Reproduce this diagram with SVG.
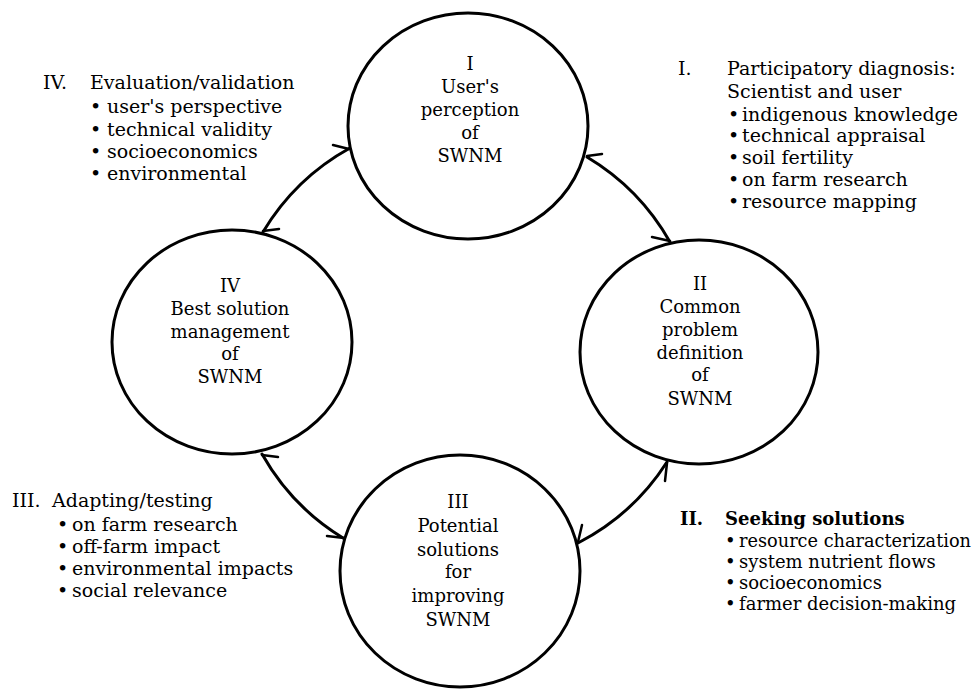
<svg xmlns="http://www.w3.org/2000/svg" width="975" height="690" viewBox="0 0 975 690">
<style>
.bg{fill:#ffffff}
.node{fill:#ffffff;stroke:#000000;stroke-width:3}
.ct{font-family:"DejaVu Serif","Liberation Serif",serif;font-size:18px;fill:#000000;text-anchor:middle}
.st{font-family:"DejaVu Serif","Liberation Serif",serif;font-size:19px;fill:#000000}
.st2{font-family:"DejaVu Serif","Liberation Serif",serif;font-size:18px;fill:#000000}
.stb{font-family:"DejaVu Serif","Liberation Serif",serif;font-size:18px;font-weight:bold;fill:#000000}
.arc{fill:none;stroke:#000000;stroke-width:3;stroke-linecap:round}
.barb{fill:none;stroke:#000000;stroke-width:2.5;stroke-linecap:round}
</style>
<rect class="bg" x="0" y="0" width="975" height="690"/>

<g id="connectors">
  <path class="arc" d="M263 232 A232 232 0 0 1 350 148"/>
  <path class="arc" d="M587 157 A232 232 0 0 1 670 242"/>
  <path class="arc" d="M667 462 A232 232 0 0 1 578 543"/>
  <path class="arc" d="M343 538 A232 232 0 0 1 262 454"/>
  <path class="barb" d="M349 149 L333 145"/>
  <path class="barb" d="M263 231 L279 229"/>
  <path class="barb" d="M587 156 L602 154"/>
  <path class="barb" d="M670 241 L652 237"/>
  <path class="barb" d="M667 463 L665 481"/>
  <path class="barb" d="M578 542 L582 525"/>
  <path class="barb" d="M262 455 L278 457"/>
  <path class="barb" d="M344 538 L327 536"/>
</g>

<g id="node-I">
  <ellipse class="node" cx="468" cy="126" rx="120" ry="113"/>
  <text class="ct" x="470" y="70">I</text>
  <text class="ct" x="470" y="93">User's</text>
  <text class="ct" x="470" y="116">perception</text>
  <text class="ct" x="470" y="139">of</text>
  <text class="ct" x="470" y="162">SWNM</text>
</g>

<g id="node-II">
  <ellipse class="node" cx="699" cy="352" rx="119" ry="112"/>
  <text class="ct" x="700" y="290">II</text>
  <text class="ct" x="700" y="313">Common</text>
  <text class="ct" x="700" y="336">problem</text>
  <text class="ct" x="700" y="359">definition</text>
  <text class="ct" x="700" y="381">of</text>
  <text class="ct" x="700" y="405">SWNM</text>
</g>

<g id="node-III">
  <ellipse class="node" cx="460" cy="571" rx="120" ry="116"/>
  <text class="ct" x="458" y="508">III</text>
  <text class="ct" x="458" y="532">Potential</text>
  <text class="ct" x="458" y="556">solutions</text>
  <text class="ct" x="458" y="578">for</text>
  <text class="ct" x="458" y="602">improving</text>
  <text class="ct" x="458" y="626">SWNM</text>
</g>

<g id="node-IV">
  <ellipse class="node" cx="232" cy="342" rx="120" ry="112"/>
  <text class="ct" x="230" y="292">IV</text>
  <text class="ct" x="230" y="315">Best solution</text>
  <text class="ct" x="230" y="338">management</text>
  <text class="ct" x="230" y="360">of</text>
  <text class="ct" x="230" y="383">SWNM</text>
</g>

<g id="label-IV">
  <text class="st" x="43" y="89">IV.</text>
  <text class="st" x="90" y="89">Evaluation/validation</text>
  <text class="st" x="90" y="113">•</text><text class="st" x="107" y="113">user's perspective</text>
  <text class="st" x="90" y="136">•</text><text class="st" x="107" y="136">technical validity</text>
  <text class="st" x="90" y="158">•</text><text class="st" x="107" y="158">socioeconomics</text>
  <text class="st" x="90" y="180">•</text><text class="st" x="107" y="180">environmental</text>
</g>

<g id="label-I">
  <text class="st" x="678" y="75">I.</text>
  <text class="st" x="727" y="75">Participatory diagnosis:</text>
  <text class="st" x="727" y="98">Scientist and user</text>
  <text class="st" x="728" y="121">•</text><text class="st" x="742" y="121">indigenous knowledge</text>
  <text class="st" x="728" y="142">•</text><text class="st" x="742" y="142">technical appraisal</text>
  <text class="st" x="728" y="164">•</text><text class="st" x="742" y="164">soil fertility</text>
  <text class="st" x="728" y="186">•</text><text class="st" x="742" y="186">on farm research</text>
  <text class="st" x="728" y="208">•</text><text class="st" x="742" y="208">resource mapping</text>
</g>

<g id="label-III">
  <text class="st" x="12" y="507">III.</text>
  <text class="st" x="52" y="507">Adapting/testing</text>
  <text class="st" x="57" y="531">•</text><text class="st" x="72" y="531">on farm research</text>
  <text class="st" x="57" y="553">•</text><text class="st" x="72" y="553">off-farm impact</text>
  <text class="st" x="57" y="575">•</text><text class="st" x="72" y="575">environmental impacts</text>
  <text class="st" x="57" y="597">•</text><text class="st" x="72" y="597">social relevance</text>
</g>

<g id="label-II">
  <text class="stb" x="680" y="525">II.</text>
  <text class="stb" x="725" y="525">Seeking solutions</text>
  <text class="st2" x="725" y="547">•</text><text class="st2" x="739" y="547" textLength="232" lengthAdjust="spacingAndGlyphs">resource characterization</text>
  <text class="st2" x="725" y="568">•</text><text class="st2" x="739" y="568">system nutrient flows</text>
  <text class="st2" x="725" y="589">•</text><text class="st2" x="739" y="589">socioeconomics</text>
  <text class="st2" x="725" y="610">•</text><text class="st2" x="739" y="610">farmer decision-making</text>
</g>
</svg>
